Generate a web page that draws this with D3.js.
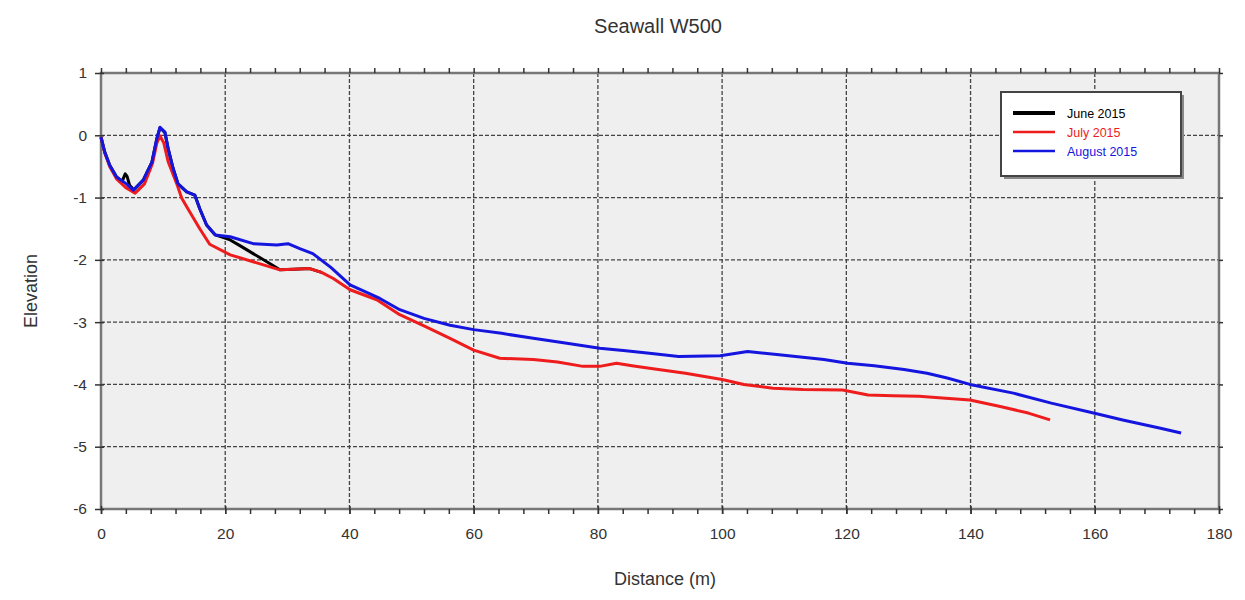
<!DOCTYPE html>
<html>
<head>
<meta charset="utf-8">
<script src="https://cdn.jsdelivr.net/npm/d3@7"></script>
<style>
  body { margin: 0; background: #ffffff; }
  svg { display: block; font-family: "Liberation Sans", Arial, sans-serif; }
</style>
</head>
<body>
<svg id="chart" width="1245" height="600"></svg>
<script>
const title = "Seawall W500";
const xLabel = "Distance (m)";
const yLabel = "Elevation";
const xTicks = [0, 20, 40, 60, 80, 100, 120, 140, 160, 180];
const yTicks = [1, 0, -1, -2, -3, -4, -5, -6];
const seriesNames = ["June 2015", "July 2015", "August 2015"];
const seriesColors = ["#000000", "#ee1c1c", "#1515e0"];

const juneX = [0, 0.6, 1.4, 2.5, 3.4, 3.9, 4.2, 4.6, 5.3, 6.8, 8.2, 9, 9.5, 10.3, 10.8, 11.6, 12.4, 13.8, 15.1, 15.9, 17, 18.4, 20.8, 22.5, 24.5, 26.7, 28.8, 31, 33.6, 35.5];
const juneY = [-0.03, -0.27, -0.48, -0.67, -0.74, -0.62, -0.66, -0.8, -0.88, -0.72, -0.43, -0.05, 0.12, 0.04, -0.21, -0.53, -0.78, -0.91, -0.96, -1.18, -1.44, -1.6, -1.68, -1.78, -1.9, -2.03, -2.16, -2.15, -2.14, -2.2];

const julyX = [0, 0.6, 1.4, 2.5, 4, 5.5, 7, 8.3, 9, 9.5, 10.1, 10.8, 12.2, 13, 14.3, 15.9, 17.5, 20.8, 24.5, 28.8, 31, 33.6, 35.5, 37.4, 40.1, 44.4, 48.1, 52, 56.2, 60, 64.2, 69.6, 73.5, 77.6, 80.3, 83, 85.5, 88.3, 94.1, 100, 103.5, 108.2, 113, 119.4, 123.5, 127.5, 131.7, 136, 139.9, 144.6, 149.3, 152.8];
const julyY = [-0.03, -0.28, -0.5, -0.7, -0.84, -0.93, -0.78, -0.45, -0.12, -0.01, -0.12, -0.42, -0.78, -1.01, -1.23, -1.5, -1.75, -1.92, -2.03, -2.16, -2.15, -2.14, -2.2, -2.3, -2.48, -2.64, -2.88, -3.06, -3.26, -3.45, -3.58, -3.6, -3.64, -3.71, -3.71, -3.66, -3.7, -3.74, -3.82, -3.92, -4.0, -4.06, -4.08, -4.09, -4.17, -4.18, -4.19, -4.22, -4.25, -4.35, -4.46, -4.57];

const augX = [0, 0.6, 1.4, 2.5, 4.1, 5.2, 6.8, 8.2, 9, 9.5, 10.3, 10.8, 11.6, 12.4, 13.8, 15.1, 15.9, 17, 18.4, 20.8, 24.5, 28.3, 30.1, 32, 34.1, 37, 40.1, 44.9, 48.1, 52, 56.2, 60, 64.5, 69.6, 75, 80.3, 84.5, 88.3, 93, 99.7, 104.1, 108.8, 116.4, 120.2, 124.5, 129.3, 133, 136.4, 139.9, 146.9, 153, 159.8, 164.5, 170.4, 173.9];
const augY = [-0.03, -0.27, -0.48, -0.67, -0.78, -0.88, -0.72, -0.43, -0.05, 0.13, 0.05, -0.21, -0.53, -0.78, -0.91, -0.96, -1.18, -1.44, -1.6, -1.63, -1.74, -1.76, -1.74, -1.82, -1.9, -2.12, -2.4, -2.62, -2.8, -2.94, -3.05, -3.12, -3.18, -3.26, -3.34, -3.42, -3.46, -3.5, -3.55, -3.54, -3.47, -3.52, -3.6, -3.66, -3.7, -3.76, -3.82, -3.9, -4.0, -4.14, -4.3, -4.46, -4.57, -4.7, -4.78];

const seriesX = [juneX, julyX, augX];
const seriesY = [juneY, julyY, augY];

const svg = d3.select("#chart");
const x = d3.scaleLinear().domain([0, 180]).range([101, 1219]);
const y = d3.scaleLinear().domain([-6, 1]).range([509, 73]);

// plot background
svg.append("rect")
  .attr("x", x(0)).attr("y", y(1))
  .attr("width", x(180) - x(0)).attr("height", y(-6) - y(1))
  .attr("fill", "#efefef");

// grid lines
const grid = svg.append("g");
grid.selectAll("line.vx").data(xTicks.filter(d => d > 0 && d < 180)).enter().append("line")
  .attr("x1", d => x(d)).attr("x2", d => x(d))
  .attr("y1", y(1)).attr("y2", y(-6))
  .attr("stroke", "#444").attr("stroke-width", 1.3).attr("stroke-dasharray", "4,2");
grid.selectAll("line.hy").data(yTicks.filter(d => d < 1 && d > -6)).enter().append("line")
  .attr("x1", x(0)).attr("x2", x(180))
  .attr("y1", d => y(d)).attr("y2", d => y(d))
  .attr("stroke", "#444").attr("stroke-width", 1.3).attr("stroke-dasharray", "4,2");

// frame
svg.append("rect")
  .attr("x", x(0)).attr("y", y(1))
  .attr("width", x(180) - x(0)).attr("height", y(-6) - y(1))
  .attr("fill", "none").attr("stroke", "#777").attr("stroke-width", 2.5);

// axes
const minorX = d3.range(0, 181, 4);
const fmt = d => String(d);
const xAxisB = d3.axisBottom(x).tickValues(xTicks).tickSize(5).tickFormat(fmt);
const gxb = svg.append("g").attr("transform", `translate(0,${y(-6)})`).call(xAxisB);
const xAxisT = d3.axisTop(x).tickValues(minorX).tickSize(5).tickFormat("");
const gxt = svg.append("g").attr("transform", `translate(0,${y(1)})`).call(xAxisT);
const gxbm = svg.append("g").attr("transform", `translate(0,${y(-6)})`)
  .call(d3.axisBottom(x).tickValues(minorX).tickSize(5).tickFormat(""));
const yAxisL = d3.axisLeft(y).tickValues(yTicks).tickSize(6).tickFormat(fmt);
const gyl = svg.append("g").attr("transform", `translate(${x(0)},0)`).call(yAxisL);
const gyr = svg.append("g").attr("transform", `translate(${x(180)},0)`)
  .call(d3.axisRight(y).tickValues(yTicks).tickSize(4).tickFormat(""));

[gxb, gxt, gxbm, gyl, gyr].forEach(g => {
  g.select(".domain").remove();
  g.selectAll(".tick line").attr("stroke", "#333").attr("stroke-width", 1.5);
});
gxb.selectAll(".tick line").attr("y1", -3);
gyl.selectAll(".tick line").attr("x1", 3);
gxb.selectAll(".tick text").attr("font-size", 15.5).attr("fill", "#333").attr("dy", "1.45em")
  .attr("font-family", "'Liberation Sans', Arial, sans-serif");
gyl.selectAll(".tick text").attr("font-size", 15.5).attr("fill", "#333").attr("dx", "-5")
  .attr("font-family", "'Liberation Sans', Arial, sans-serif");

// lines
const plot = svg.append("g");
seriesNames.forEach((name, i) => {
  const pts = seriesX[i].map((xv, j) => [xv, seriesY[i][j]]);
  plot.append("path")
    .datum(pts)
    .attr("fill", "none")
    .attr("stroke", seriesColors[i])
    .attr("stroke-width", 3)
    .attr("stroke-linejoin", "round")
    .attr("d", d3.line().x(d => x(d[0])).y(d => y(d[1])));
});

// titles
svg.append("text").attr("x", 658).attr("y", 33).attr("text-anchor", "middle")
  .attr("font-size", 20).attr("fill", "#333").text(title);
svg.append("text").attr("x", 665).attr("y", 585).attr("text-anchor", "middle")
  .attr("font-size", 18).attr("fill", "#333").text(xLabel);
svg.append("text").attr("transform", "translate(37,291) rotate(-90)").attr("text-anchor", "middle")
  .attr("font-size", 18).attr("fill", "#333").text(yLabel);

// legend
const lg = svg.append("g");
lg.append("rect").attr("x", 1004).attr("y", 95).attr("width", 180).attr("height", 84)
  .attr("fill", "#888");
lg.append("rect").attr("x", 1001).attr("y", 92).attr("width", 180).attr("height", 84)
  .attr("fill", "#ffffff").attr("stroke", "#444").attr("stroke-width", 2);
seriesNames.forEach((name, i) => {
  const ly = 113 + i * 19;
  lg.append("line").attr("x1", 1013).attr("x2", 1055).attr("y1", ly).attr("y2", ly)
    .attr("stroke", seriesColors[i]).attr("stroke-width", i === 0 ? 4 : 2.5);
  lg.append("text").attr("x", 1067).attr("y", ly + 4.5).attr("font-size", 12.5)
    .attr("fill", seriesColors[i]).text(name);
});
</script>
</body>
</html>
